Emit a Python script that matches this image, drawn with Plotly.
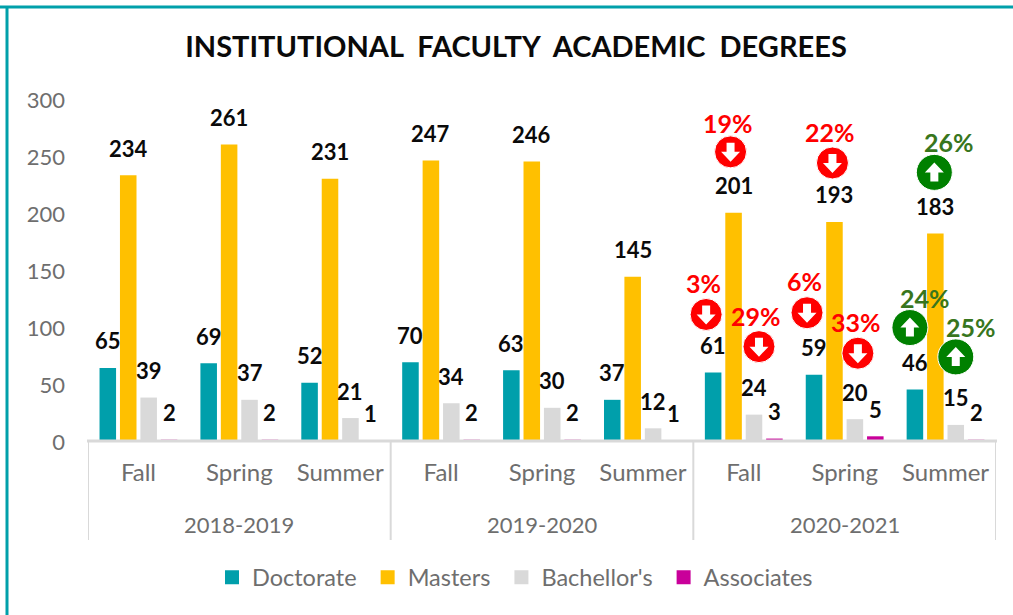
import plotly.graph_objects as go

TITLE = "INSTITUTIONAL  FACULTY  ACADEMIC  DEGREES"
TERMS = ["Fall", "Spring", "Summer"] * 3
YEARS = ["2018-2019", "2019-2020", "2020-2021"]
DOCTORATE = [65, 69, 52, 70, 63, 37, 61, 59, 46]
MASTERS = [234, 261, 231, 247, 246, 145, 201, 193, 183]
BACHELLORS = [39, 37, 21, 34, 30, 12, 24, 20, 15]
ASSOCIATES = [2, 2, 1, 2, 2, 1, 3, 5, 2]
SERIES_NAMES = ["Doctorate", "Masters", "Bachellor's", "Associates"]
SERIES = [DOCTORATE, MASTERS, BACHELLORS, ASSOCIATES]

# change badges: (term index, series index, percent, direction)
CHANGES = [
    (6, 1, 19, "down"), (7, 1, 22, "down"), (8, 1, 26, "up"),
    (6, 0, 3, "down"), (6, 2, 29, "down"), (7, 0, 6, "down"),
    (7, 2, 33, "down"), (8, 0, 24, "up"), (8, 2, 25, "up"),
]
# pixel nudges per badge: circle dx, circle dy, text dx, text dy
BADGE_NUDGE = [
    (-3, 61, -6, 90), (-2, 59, -4, 90), (-1, 61, 14, 91),
    (-7, 58, -10, 89), (5, 68, 2, 99), (-7, 62, -10, 94),
    (3, 66, 1, 97), (-5, 62, 10, 92), (0, 68, 15, 98),
]

COLORS = ["#009FAB", "#FFC000", "#D9D9D9", "#C9009A"]
GREY = "#6E6E6E"
AXIS = "#D9D9D9"
BORDER = "#00A0AA"
BODY_FONT = "Lato"
LABEL_FONT = "Lato"
RED = "#FF0000"
GREEN = "#008000"
GREEN_TEXT = "#38761D"

BARGAP = 0.19
GROUPGAP = 0.19
SLOT = (1 - BARGAP) / 4
xs = list(range(len(TERMS)))
PLOT_H = 342
BASE = 442

fig = go.Figure()
for name, vals, col in zip(SERIES_NAMES, SERIES, COLORS):
    fig.add_bar(x=xs, y=vals, name=name, marker=dict(color=col, line_width=0), showlegend=False)
for name, col in zip(SERIES_NAMES, COLORS):
    fig.add_scatter(x=[None], y=[None], name=name + "\u00a0", mode="markers",
                    marker=dict(symbol="square", size=14, color=col))

annotations = []
for s, vals in enumerate(SERIES):
    for i, v in enumerate(vals):
        annotations.append(dict(
            x=i + (s - 1.5) * SLOT, y=v, text=f"<b>{v}</b>", showarrow=False,
            xanchor="center", yanchor="middle", yshift=27,
            font=dict(family=LABEL_FONT, size=22, color="#0A0A0A")))

shapes = []
for (i, s, pct, d), (cdx, cdy, tdx, tdy) in zip(CHANGES, BADGE_NUDGE):
    v = SERIES[s][i]
    cx = i + (s - 1.5) * SLOT
    up = d == "up"
    r = 18 if up else 16
    shapes.append(dict(
        type="circle", xref="x", yref="y", xsizemode="pixel", ysizemode="pixel",
        xanchor=cx, yanchor=v, x0=cdx - r, x1=cdx + r, y0=cdy - r, y1=cdy + r,
        fillcolor=GREEN if up else RED, line=dict(color="white", width=1), layer="above"))
    sgn = 1 if up else -1
    pts = [(-4, -9), (4, -9), (4, 0), (9.5, 0), (0, 10), (-9.5, 0), (-4, 0)]
    path = "M" + " L".join(f"{cdx + px},{cdy + sgn * py}" for px, py in pts) + " Z"
    shapes.append(dict(
        type="path", xref="x", yref="y", xsizemode="pixel", ysizemode="pixel",
        xanchor=cx, yanchor=v, path=path, fillcolor="white",
        line=dict(color="white", width=0), layer="above"))
    annotations.append(dict(
        x=cx, y=v, text=f"<b>{pct}%</b>", showarrow=False, xshift=tdx, yshift=tdy,
        xanchor="center", yanchor="middle",
        font=dict(family=LABEL_FONT, size=25, color=GREEN_TEXT if up else RED)))

# axis line drawn over the bar feet
shapes.append(dict(type="line", xref="paper", yref="paper", x0=-1 / 908, x1=1 + 1 / 908,
                   y0=1 / PLOT_H, y1=1 / PLOT_H, line=dict(color=AXIS, width=3), layer="above"))
# year dividers and labels below the axis
for k in range(4):
    shapes.append(dict(type="line", xref="x", yref="paper", x0=k * 3 - 0.5, x1=k * 3 - 0.5,
                       y0=2 / PLOT_H, y1=-98 / PLOT_H, line=dict(color=AXIS, width=2), layer="above"))
for k, yr in enumerate(YEARS):
    annotations.append(dict(x=k * 3 + 1, y=0, xref="x", yref="paper", yshift=-82,
                            text=yr, showarrow=False, yanchor="middle",
                            font=dict(family=BODY_FONT, size=22, color=GREY)))

# card border
TOP = (BASE - 7) / PLOT_H
LEFT = -81 / 908
shapes.append(dict(type="line", xref="paper", yref="paper", x0=-88 / 908, x1=1.02,
                   y0=TOP, y1=TOP, line=dict(color=BORDER, width=3)))
shapes.append(dict(type="line", xref="paper", yref="paper", x0=LEFT, x1=LEFT,
                   y0=TOP, y1=-173 / PLOT_H, line=dict(color=BORDER, width=3)))

fig.update_layout(
    width=1013, height=615, autosize=False,
    margin=dict(l=88, r=17, t=100, b=173, pad=0),
    paper_bgcolor="white", plot_bgcolor="white",
    barmode="group", bargap=BARGAP, bargroupgap=GROUPGAP,
    title=dict(text=f"<b>{TITLE}</b>", x=516 / 1013, xanchor="center", y=1 - 47 / 615,
               yanchor="middle", font=dict(family=LABEL_FONT, size=29, color="#0A0A0A")),
    font=dict(family=BODY_FONT, color=GREY),
    xaxis=dict(range=[-0.5, 8.5], tickmode="array", tickvals=xs, ticktext=TERMS,
               showgrid=False, zeroline=False, showline=False,
               ticks="", ticklabelstandoff=14, tickfont=dict(family=BODY_FONT, size=24, color=GREY)),
    yaxis=dict(range=[0, 300], tickvals=[0, 50, 100, 150, 200, 250, 300], showgrid=False,
               zeroline=False, showline=False, ticks="", ticklabelstandoff=22,
               tickfont=dict(family=BODY_FONT, size=22, color=GREY)),
    legend=dict(orientation="h", x=518 / 1013, xanchor="center", xref="container", y=1 - 577.5 / 615,
                yref="container", yanchor="middle", itemsizing="trace",
                font=dict(family=BODY_FONT, size=23.5, color=GREY), itemwidth=30, traceorder="normal"),
    annotations=annotations, shapes=shapes,
)
fig.write_html("out.html", config={"displayModeBar": False},
               post_script="document.body.style.margin='0';document.documentElement.style.overflow='hidden';")
